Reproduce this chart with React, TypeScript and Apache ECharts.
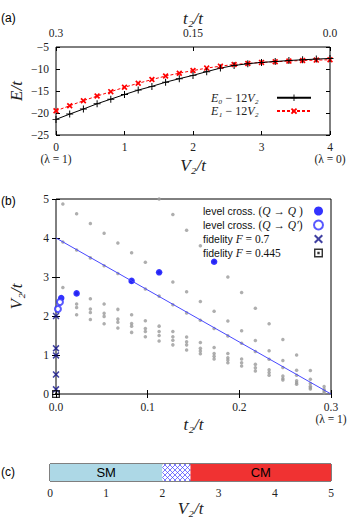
import React, { useEffect, useRef } from 'react';
import * as echarts from 'echarts';

// ---------- panel (a) data ----------
const v2Values = [0, 0.2, 0.4, 0.6, 0.8, 1.0, 1.2, 1.4, 1.6, 1.8, 2.0, 2.2, 2.4, 2.6, 2.8, 3.0, 3.2, 3.4, 3.6, 3.8, 4.0];
const e0Values = [-21.45, -20.25, -19.1, -17.9, -16.85, -15.8, -14.8, -13.95, -13.0, -12.2, -11.45, -10.6, -9.8, -9.2, -8.8, -8.5, -8.3, -8.07, -7.9, -7.75, -7.6];
const e1Values = [-19.5, -18.35, -17.2, -16.15, -15.15, -14.15, -13.25, -12.4, -11.6, -10.95, -10.35, -9.8, -9.35, -8.97, -8.74, -8.5, -8.36, -8.2, -8.06, -7.98, -7.9];

// ---------- panel (b) data ----------
const grayT2 = [0.0075, 0.0225, 0.0375, 0.0525, 0.0675, 0.0825, 0.0975, 0.1125, 0.1275, 0.1425, 0.1575, 0.1725, 0.1875, 0.2025, 0.2175, 0.2325, 0.2475, 0.2625, 0.2775, 0.2925];
const grayV2 = [
  [4.87, 3.9, 2.73],
  [4.62, 3.69, 2.58, 2.31, 2.22, 2.03],
  [4.37, 3.49, 2.44, 2.18, 2.09, 1.91],
  [4.12, 3.29, 2.31, 2.07, 1.99, 1.8],
  [3.87, 3.09, 2.17, 1.92, 1.84, 1.69],
  [3.62, 2.9, 2.03, 1.81, 1.74, 1.58],
  [3.38, 2.69, 1.88, 1.68, 1.6, 1.47],
  [5.0, 3.12, 2.51, 1.74, 1.6, 1.5, 1.36],
  [4.6, 2.87, 2.29, 1.6, 1.47, 1.38, 1.26],
  [4.2, 2.62, 2.08, 1.46, 1.34, 1.26, 1.13],
  [3.8, 2.37, 1.89, 1.32, 1.17, 1.1, 1.03],
  [3.4, 2.12, 1.68, 1.19, 1.04, 0.97, 0.9],
  [3.0, 1.87, 1.49, 1.04, 0.93, 0.87, 0.8],
  [2.6, 1.62, 1.3, 0.9, 0.8, 0.72],
  [2.2, 1.37, 1.09, 0.76, 0.67, 0.59],
  [1.8, 1.11, 0.89, 0.62, 0.55, 0.48],
  [1.4, 0.86, 0.68, 0.46, 0.4, 0.36],
  [1.0, 0.61, 0.48, 0.34, 0.29, 0.25],
  [0.6, 0.38, 0.27, 0.2, 0.16, 0.13],
  [0.19, 0.12, 0.08, 0.03],
];
const crossingQQ = [[0.0057, 2.46], [0.0225, 2.58], [0.0825, 2.9], [0.1125, 3.12], [0.1725, 3.39]];
const crossingQQp = [[0.0043, 2.36], [0.0021, 2.18]];
const fidelity07T2 = [0, 0, 0, 0, 0];
const fidelity07V2 = [2.0, 1.17, 0.99, 0.5, 0.12];
const fidelity0445 = [[0, 0]];
const guideLine = [[0, 4], [0.3, 0]];

// ---------- panel (c) data ----------
const phaseLabels = ['SM', '', 'CM'];
const phaseWidths = [2, 0.5, 2.5];

const SERIF = "'Liberation Serif', 'DejaVu Serif', serif";
const SANS = "'Liberation Sans', 'DejaVu Sans', sans-serif";

const PLUS = 'path://M4.3,0 H5.7 V4.3 H10 V5.7 H5.7 V10 H4.3 V5.7 H0 V4.3 H4.3 Z';
const XMARK = 'path://M0,1.6 L1.6,0 L5,3.4 L8.4,0 L10,1.6 L6.6,5 L10,8.4 L8.4,10 L5,6.6 L1.6,10 L0,8.4 L3.4,5 Z';
const XBOLD = 'path://M0,2 L2,0 L5,3 L8,0 L10,2 L7,5 L10,8 L8,10 L5,7 L2,10 L0,8 L3,5 Z';
const SQDOT = 'path://M0,0 H10 V10 H0 Z M1.6,1.6 V8.4 H8.4 V1.6 Z M3.7,3.7 H6.3 V6.3 H3.7 Z';

const hatchSvg = "<svg xmlns='http://www.w3.org/2000/svg' width='5' height='5'><rect width='5' height='5' fill='white'/><path d='M0,0 L5,5 M5,0 L0,5' stroke='#4040ff' stroke-width='0.7'/></svg>";
const hatchUrl = 'data:image/svg+xml;charset=utf-8,' + encodeURIComponent(hatchSvg);

const tickLabel = { fontFamily: SERIF, fontSize: 11.5, color: '#222' };
const nameStyle = { fontFamily: SERIF, fontSize: 17, fontStyle: 'italic' as const, color: '#222' };
const tickInside = { inside: true, length: 4, lineStyle: { color: '#000', width: 1 } };

function buildOption() {
  const grayData: number[][] = [];
  grayT2.forEach((t, i) => grayV2[i].forEach((v) => grayData.push([t, v])));
  const gridBox = { show: true, borderColor: '#000', borderWidth: 1, backgroundColor: 'transparent' };
  const fmtMinus = (v: number) => (v < 0 ? '\u2212' + Math.abs(v) : String(v));
  const named = { nameLocation: 'middle', nameMoveOverlap: false, nameTextStyle: nameStyle };

  return {
    animation: false,
    graphic: [
      { type: 'text', left: 1, top: 12, style: { text: '(a)', font: `12px ${SANS}`, fill: '#000' } },
      { type: 'text', left: 1, top: 195, style: { text: '(b)', font: `12px ${SANS}`, fill: '#000' } },
      { type: 'text', left: 1, top: 466, style: { text: '(c)', font: `12px ${SANS}`, fill: '#000' } },
    ],
    grid: [
      { left: 50, top: 47, width: 280, height: 88, ...gridBox },
      { left: 50, top: 199, width: 281, height: 195, ...gridBox },
      { left: 50, top: 464, width: 281, height: 17, ...gridBox },
    ],
    legend: [
      {
        data: ['E0', 'E1'],
        left: 211,
        top: 91,
        padding: 0,
        orient: 'vertical',
        align: 'right',
        itemWidth: 34,
        itemHeight: 8,
        itemGap: 0,
        selectedMode: false,
        formatter: (n: string) => (n === 'E0' ? '{i|E₀}{r| − 12}{i|V₂}' : '{i|E₁}{r| − 12}{i|V₂}'),
        textStyle: {
          width: 61,
          lineHeight: 13.4,
          rich: {
            i: { fontFamily: SERIF, fontStyle: 'italic', fontSize: 12, color: '#222', align: 'left' },
            r: { fontFamily: SERIF, fontSize: 12, color: '#222', align: 'left' },
          },
        },
      },
      {
        data: ['qq', 'qqp', 'f07', 'f0445'],
        left: 203,
        top: 204,
        padding: 0,
        orient: 'vertical',
        align: 'right',
        itemWidth: 9,
        itemHeight: 9,
        itemGap: 0,
        selectedMode: false,
        formatter: (n: string) => {
          if (n === 'qq') return '{s|level cross. }{r|(}{i|Q}{r| → }{i|Q}{r| )}';
          if (n === 'qqp') return '{s|level cross. }{r|(}{i|Q}{r| → }{i|Q′}{r|)}';
          if (n === 'f07') return '{s|fidelity }{i|F}{r| = 0.7}';
          return '{s|fidelity }{i|F}{r| = 0.445}';
        },
        textStyle: {
          width: 106,
          lineHeight: 14,
          rich: {
            s: { fontFamily: SANS, fontSize: 10.5, color: '#111', align: 'left' },
            i: { fontFamily: SERIF, fontStyle: 'italic', fontSize: 11.5, color: '#111', align: 'left' },
            r: { fontFamily: SERIF, fontSize: 11.5, color: '#111', align: 'left' },
          },
        },
      },
    ],
    xAxis: [
      {
        gridIndex: 0, type: 'value', min: 0, max: 4, interval: 1, position: 'bottom',
        axisLine: { show: false }, splitLine: { show: false }, axisTick: tickInside,
        axisLabel: {
          ...tickLabel, margin: 6, lineHeight: 12,
          formatter: (v: number) => (v === 0 ? '0\n(λ = 1)' : v === 4 ? '4\n(λ = 0)' : String(v)),
        },
        name: 'V₂/t', nameGap: 22, ...named,
      },
      {
        gridIndex: 0, type: 'value', min: 0, max: 0.3, interval: 0.15, position: 'top', inverse: true,
        axisLine: { show: false }, splitLine: { show: false }, axisTick: tickInside,
        axisLabel: { ...tickLabel, margin: 8, formatter: (v: number) => (v === 0 ? '0.0' : String(v)) },
        name: 't₂/t', nameGap: 20, ...named,
      },
      {
        gridIndex: 1, type: 'value', min: 0, max: 0.3, interval: 0.1, position: 'bottom',
        axisLine: { show: false }, splitLine: { show: false }, axisTick: tickInside,
        axisLabel: {
          ...tickLabel, margin: 7, lineHeight: 12,
          formatter: (v: number) => (Math.abs(v - 0.3) < 1e-9 ? '0.3\n(λ = 1)' : v.toFixed(1)),
        },
        name: 't₂/t', nameGap: 22, ...named,
      },
      {
        gridIndex: 1, type: 'value', min: 0, max: 0.3, interval: 0.1, position: 'top',
        axisLine: { show: false }, splitLine: { show: false }, axisTick: tickInside,
        axisLabel: { show: false },
      },
      {
        gridIndex: 2, type: 'value', min: 0, max: 5, interval: 1, position: 'bottom',
        axisLine: { show: false }, splitLine: { show: false }, axisTick: { show: false },
        axisLabel: { ...tickLabel, margin: 6 },
        name: 'V₂/t', nameGap: 19, ...named,
      },
    ],
    yAxis: [
      {
        gridIndex: 0, type: 'value', min: -25, max: -5, interval: 5, position: 'left',
        axisLine: { show: false }, splitLine: { show: false }, axisTick: tickInside,
        axisLabel: { ...tickLabel, margin: 7, formatter: fmtMinus },
        name: 'E/t', nameGap: 31, ...named,
      },
      {
        gridIndex: 0, type: 'value', min: -25, max: -5, interval: 5, position: 'right',
        axisLine: { show: false }, splitLine: { show: false }, axisTick: tickInside,
        axisLabel: { show: false },
      },
      {
        gridIndex: 1, type: 'value', min: 0, max: 5, interval: 1, position: 'left',
        axisLine: { show: false }, splitLine: { show: false }, axisTick: tickInside,
        axisLabel: { ...tickLabel, margin: 7 },
        name: 'V₂/t', nameGap: 31, ...named,
      },
      {
        gridIndex: 1, type: 'value', min: 0, max: 5, interval: 1, position: 'right',
        axisLine: { show: false }, splitLine: { show: false }, axisTick: tickInside,
        axisLabel: { show: false },
      },
      {
        gridIndex: 2, type: 'category', data: ['phase'], show: false,
      },
    ],
    series: [
      {
        name: 'E1', type: 'line', xAxisIndex: 0, yAxisIndex: 0,
        data: v2Values.map((v, i) => [v, e1Values[i]]),
        symbol: XBOLD, symbolSize: 6, showAllSymbol: true,
        lineStyle: { color: '#ff0000', width: 1, type: [3, 2] },
        itemStyle: { color: '#ff0000' },
      },
      {
        name: 'E0', type: 'line', xAxisIndex: 0, yAxisIndex: 0,
        data: v2Values.map((v, i) => [v, e0Values[i]]),
        symbol: PLUS, symbolSize: 7, showAllSymbol: true,
        lineStyle: { color: '#000', width: 1 },
        itemStyle: { color: '#000' },
      },
      {
        name: 'gray', type: 'scatter', xAxisIndex: 2, yAxisIndex: 2, data: grayData,
        symbol: 'circle', symbolSize: 3.5, itemStyle: { color: '#9a9a9a' }, clip: false,
      },
      {
        name: 'guide', type: 'line', xAxisIndex: 2, yAxisIndex: 2, data: guideLine,
        symbol: 'none', lineStyle: { color: '#4848ff', width: 1 },
      },
      {
        name: 'qq', type: 'scatter', xAxisIndex: 2, yAxisIndex: 2, data: crossingQQ,
        symbol: 'circle', symbolSize: 6.5, itemStyle: { color: '#0000ff' }, clip: false,
      },
      {
        name: 'qqp', type: 'scatter', xAxisIndex: 2, yAxisIndex: 2, data: crossingQQp,
        symbol: 'emptyCircle', symbolSize: 6, itemStyle: { color: '#3030ff', borderWidth: 1.2 }, clip: false,
      },
      {
        name: 'f07', type: 'scatter', xAxisIndex: 2, yAxisIndex: 2,
        data: fidelity07T2.map((t, i) => [t, fidelity07V2[i]]),
        symbol: XMARK, symbolSize: 7, itemStyle: { color: '#10108a' }, clip: false,
      },
      {
        name: 'f0445', type: 'scatter', xAxisIndex: 2, yAxisIndex: 2, data: fidelity0445,
        symbol: SQDOT, symbolSize: 8, itemStyle: { color: '#000' }, clip: false,
      },
      ...phaseWidths.map((w, i) => ({
        name: 'phase' + i, type: 'bar', xAxisIndex: 4, yAxisIndex: 4, stack: 'phase',
        data: [w], barWidth: '100%',
        itemStyle: {
          color: i === 0 ? '#add8e6' : i === 2 ? '#f03232' : { image: hatchUrl, repeat: 'repeat', imageWidth: 5, imageHeight: 5 },
        },
        label: {
          show: phaseLabels[i] !== '', position: 'inside', formatter: phaseLabels[i],
          fontFamily: SANS, fontSize: 13, color: '#000',
        },
      })),
    ],
  };
}

export default function App() {
  const ref = useRef<HTMLDivElement>(null);
  useEffect(() => {
    if (!ref.current) return;
    const chart = echarts.init(ref.current, undefined, { renderer: 'svg' });
    chart.setOption(buildOption() as any);
    return () => chart.dispose();
  }, []);
  return (
    <div
      ref={ref}
      style={{ position: 'absolute', left: 0, top: 0, width: 353, height: 519, background: '#fff' }}
    />
  );
}
